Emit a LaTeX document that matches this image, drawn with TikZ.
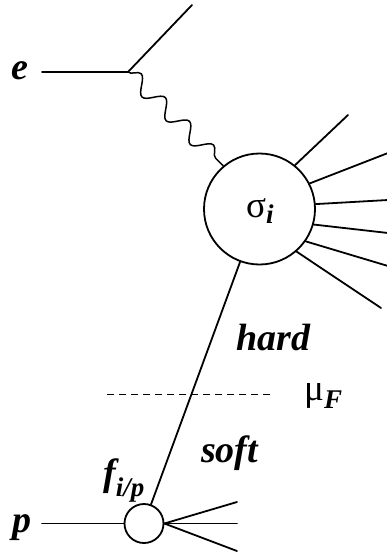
\documentclass[tikz,border=0pt]{standalone}
\usepackage{fontspec}
\setmainfont{Liberation Serif}
\usetikzlibrary{decorations.pathmorphing}
\tikzset{
  ln/.style={line width=1.8pt, line cap=round},
  blob/.style={circle, draw, line width=1.8pt, inner sep=0pt, fill=white},
  lbl/.style={inner sep=0pt, font=\fontsize{38}{42}\selectfont\bfseries\itshape},
  greek/.style={inner sep=0pt, font=\fontsize{37}{40}\selectfont},
  photon/.style={line width=1.5pt, decorate, decoration={snake, segment length=33.9pt, amplitude=8pt, pre length=0pt, post length=0pt}}
}
\newcommand{\bisub}[1]{{\fontsize{27}{30}\selectfont\bfseries\itshape #1}}
\begin{document}
\begin{tikzpicture}[x=1pt,y=-1pt]
\useasboundingbox (0,0) rectangle (386,554);
% big blob and small blob
\node[blob, minimum size=111pt] (sig) at (259.5,209) {};
\node[blob, minimum size=39pt] (fp) at (144,523.5) {};
% electron
\coordinate (vtx) at (128,72);
\coordinate (ein) at (42,72);
\coordinate (eout) at (192,5);
\draw[ln] (ein) -- (vtx) -- (eout);
\draw[photon] (vtx) -- (sig.130);
% outgoing from big blob
\coordinate (o1) at (348,115);
\coordinate (o2) at (388,153);
\coordinate (o3) at (388,200);
\coordinate (o4) at (388,233);
\coordinate (o5) at (388,266);
\coordinate (o6) at (381,308);
\draw[ln] (sig.51.7) -- (o1);
\draw[ln] (sig.27) -- (o2);
\draw[ln] (sig.5) -- (o3);
\draw[ln] (sig.-16) -- (o4);
\draw[ln] (sig.-35.6) -- (o5);
\draw[ln] (sig.-49) -- (o6);
% parton line
\draw[ln] (sig) -- (fp);
% proton
\coordinate (pin) at (42,523.5);
\draw[ln] (pin) -- (fp.west);
\coordinate (q1) at (237,502);
\coordinate (q2) at (237,523.5);
\coordinate (q3) at (237,551);
\draw[ln] (fp.east) -- (q1);
\draw[ln] (fp.east) -- (q2);
\draw[ln] (fp.east) -- (q3);
% factorisation scale
\coordinate (d1) at (107,394);
\coordinate (d2) at (273,394);
\draw[line width=0.9pt, dash pattern=on 7pt off 5pt] (d1) -- (d2);
% labels
\node[lbl] (le) at (20,71) {e};
\node[lbl] (lp) at (22,528) {p};
\node[lbl, anchor=base west] (lhard) at (236,350) {hard};
\node[lbl, anchor=base west] (lsoft) at (201,462) {soft};
\node[greek, anchor=base west] (lsig) at (246,217) {σ\raisebox{-6pt}{\bisub{i}}};
\node[greek, anchor=base west] (lmu) at (304,400) {μ\raisebox{-8pt}{\bisub{F}}};
\node[lbl, anchor=base west] (lf) at (103,485) {f\raisebox{-11pt}{\bisub{i/p}}};
\end{tikzpicture}
\end{document}
